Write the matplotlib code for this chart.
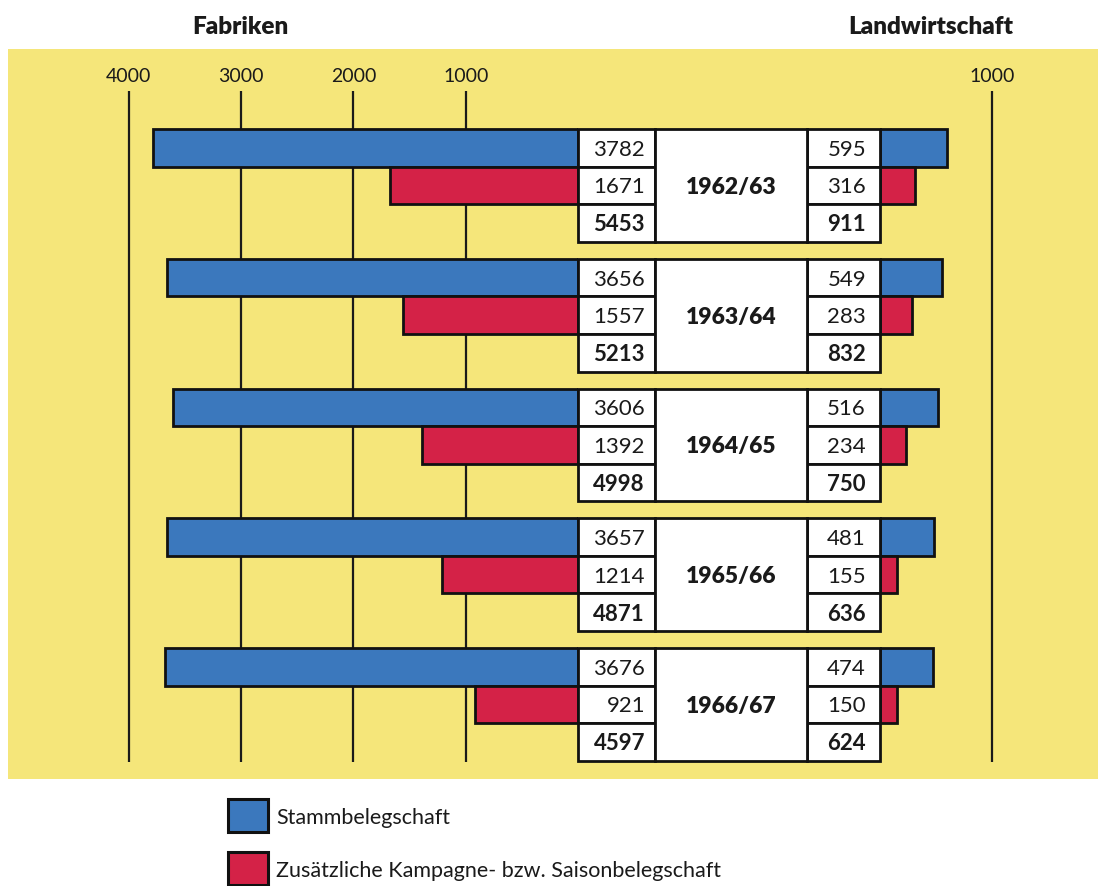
import matplotlib
matplotlib.use('Agg')
import matplotlib.pyplot as plt
from matplotlib.patches import Rectangle

# ---------------- data ----------------
years = ['1962/63', '1963/64', '1964/65', '1965/66', '1966/67']
fab_stamm = [3782, 3656, 3606, 3657, 3676]
fab_saison = [1671, 1557, 1392, 1214, 921]
fab_total = [5453, 5213, 4998, 4871, 4597]
land_stamm = [595, 549, 516, 481, 474]
land_saison = [316, 283, 234, 155, 150]
land_total = [911, 832, 750, 636, 624]
left_ticks = [4000, 3000, 2000, 1000]
right_ticks = [1000]
legend_labels = ['Stammbelegschaft', 'Zusätzliche Kampagne- bzw. Saisonbelegschaft']
titles = ['Fabriken', 'Landwirtschaft']

# ---------------- style / layout ----------------
plt.rcParams['font.family'] = ['Lato', 'DejaVu Sans']
BLUE = '#3B78BD'
RED = '#D42247'
YEL = '#F5E67A'
INK = '#1a1a1a'

W, H = 1098, 887
PANEL = (8, 50, 1098, 780)
ZERO_L, ZERO_R, PX_PER = 578, 880, 0.1123
ROW_H, PITCH, TOP = 37.6, 129.75, 130
GRID_TOP, GRID_BOT = 92, 763
BOX_L = (578, 655)
BOX_Y = (655, 807)
BOX_R = (807, 880)

fig = plt.figure(figsize=(W / 100, H / 100), dpi=100)


def ax_px(x0, x1):
    ax = fig.add_axes([x0 / W, 0, (x1 - x0) / W, 1])
    ax.set_ylim(H, 0)
    ax.axis('off')
    return ax


bg = ax_px(0, W)
bg.set_xlim(0, W)
bg.add_patch(Rectangle((PANEL[0], PANEL[1]), PANEL[2] - PANEL[0], PANEL[3] - PANEL[1],
                       color=YEL, lw=0))

# left (Fabriken) axes, reversed
axL = ax_px(PANEL[0], ZERO_L)
axL.set_xlim((ZERO_L - PANEL[0]) / PX_PER, 0)
# right (Landwirtschaft) axes
axR = ax_px(ZERO_R, W)
axR.set_xlim(0, (W - ZERO_R) / PX_PER)

y_stamm = [TOP + i * PITCH + 0.5 * ROW_H for i in range(len(years))]
y_saison = [y + ROW_H for y in y_stamm]

for ax, ticks in ((axL, left_ticks), (axR, right_ticks)):
    ax.vlines(ticks, GRID_TOP, GRID_BOT, color=INK, lw=1.6, zorder=1)
    for t in ticks:
        ax.text(t, 76, f'{t}', ha='center', va='center', fontsize=14, color=INK)

axL.barh(y_stamm, fab_stamm, height=ROW_H, color=BLUE, edgecolor='#111111', lw=2, zorder=2)
axL.barh(y_saison, fab_saison, height=ROW_H, color=RED, edgecolor='#111111', lw=2, zorder=2)
axR.barh(y_stamm, land_stamm, height=ROW_H, color=BLUE, edgecolor='#111111', lw=2, zorder=2)
axR.barh(y_saison, land_saison, height=ROW_H, color=RED, edgecolor='#111111', lw=2, zorder=2)

# overlay for table / texts
top = ax_px(0, W)
top.set_xlim(0, W)

for i, yr in enumerate(years):
    gy = TOP + i * PITCH
    lvals = [fab_stamm[i], fab_saison[i], fab_total[i]]
    rvals = [land_stamm[i], land_saison[i], land_total[i]]
    for r in range(3):
        y0 = gy + r * ROW_H
        top.add_patch(Rectangle((BOX_L[0], y0), BOX_L[1] - BOX_L[0], ROW_H,
                                fc='white', ec='#111111', lw=2))
        top.add_patch(Rectangle((BOX_R[0], y0), BOX_R[1] - BOX_R[0], ROW_H,
                                fc='white', ec='#111111', lw=2))
        bold = 'bold' if r == 2 else 'normal'
        top.text(BOX_L[1] - 10, y0 + ROW_H / 2 + 1, f'{lvals[r]}', ha='right', va='center',
                 fontsize=16, fontweight=bold, color=INK)
        top.text(BOX_R[1] - 14, y0 + ROW_H / 2 + 1, f'{rvals[r]}', ha='right', va='center',
                 fontsize=16, fontweight=bold, color=INK)
    top.add_patch(Rectangle((BOX_Y[0], gy), BOX_Y[1] - BOX_Y[0], 3 * ROW_H,
                            fc='white', ec='#111111', lw=2))
    top.text((BOX_Y[0] + BOX_Y[1]) / 2, gy + 1.5 * ROW_H + 1, yr, ha='center', va='center',
             fontsize=16.5, fontweight='heavy', color=INK)

# titles
top.text(240, 27, titles[0], ha='center', va='center', fontsize=17.5, fontweight='heavy', color=INK)
top.text(931, 27, titles[1], ha='center', va='center', fontsize=17.5, fontweight='heavy', color=INK)

# legend
for k, (lab, col) in enumerate(zip(legend_labels, (BLUE, RED))):
    y0 = 800 + k * 53
    top.add_patch(Rectangle((228, y0), 40, 33, fc=col, ec='#111111', lw=2.2))
    top.text(276, y0 + 18, lab, ha='left', va='center', fontsize=15.5, color=INK)

fig.savefig('out.png', dpi=100)
